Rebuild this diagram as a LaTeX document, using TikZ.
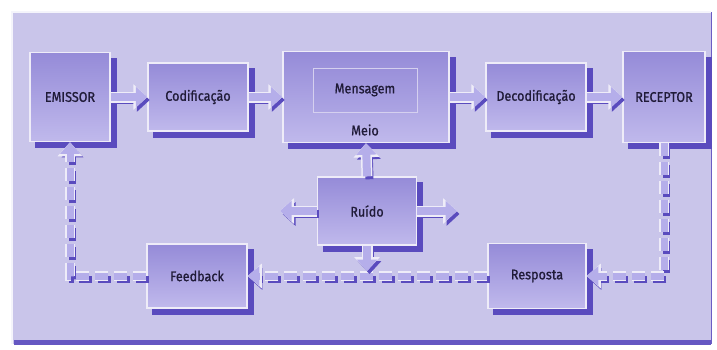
\documentclass[tikz,border=0pt]{standalone}
\usepackage{fontspec}
\setmainfont[FakeStretch=0.9,FakeBold=0.9]{Fira Sans}
\usetikzlibrary{arrows.meta}
\definecolor{panel}{HTML}{C9C5EA}
\definecolor{boxtop}{HTML}{958BD8}
\definecolor{boxbot}{HTML}{C0B9EC}
\definecolor{msgtop}{HTML}{9A90DA}
\definecolor{msgbot}{HTML}{ACA4E3}
\definecolor{shad}{HTML}{5A4BBE}
\definecolor{rim}{HTML}{EEECF8}
\definecolor{arrowc}{HTML}{B5AEEA}
\definecolor{txt}{HTML}{201B38}
\pgfdeclarelayer{bg}
\pgfdeclarelayer{shadowlayer}
\pgfsetlayers{bg,shadowlayer,main}
\tikzset{
  box/.style={draw=rim, line width=1.5pt, top color=boxtop, bottom color=boxbot,
    inner sep=0pt, font=\fontsize{14}{16}\selectfont, text=txt},
  lbl/.style={inner sep=0pt, font=\fontsize{14}{16}\selectfont, text=txt},
  arrshadow/.style={draw=shad, line width=8pt, line cap=butt,
    -{Triangle[width=23pt,length=13pt]}, transform canvas={shift={(2.5pt,-3pt)}}},
  arrrim/.style={draw=rim, line width=11pt, line cap=butt, -{Triangle[width=25pt,length=14pt]}},
  arrfill/.style={draw=arrowc, line width=8pt, line cap=butt, -{Triangle[width=20pt,length=11.5pt]}},
  dshadow/.style={draw=shad, line width=7pt, line cap=butt, dash pattern=on 13pt off 6pt,
    -{Triangle[width=21pt,length=12pt]}, transform canvas={shift={(2.5pt,-3pt)}}},
  drim/.style={draw=rim, line width=9.5pt, line cap=butt, dash pattern=on 13pt off 6pt,
    -{Triangle[width=24pt,length=14pt]}},
  dfill/.style={draw=arrowc, line width=7pt, line cap=butt, dash pattern=on 13pt off 6pt,
    -{Triangle[width=19pt,length=11.5pt]}},
}
\newcommand\barrow[2]{\draw[arrshadow] #1 -- #2; \draw[arrrim] #1 -- #2; \draw[arrfill] #1 -- #2;}
\newcommand\darrow[1]{\draw[dshadow] #1; \draw[drim] #1; \draw[dfill] #1;}
\begin{document}
\begin{tikzpicture}[x=1pt,y=-1pt]
\useasboundingbox (0,0) rectangle (717,349);
\begin{pgfonlayer}{bg}
  \fill[white] (0,0) rectangle (717,349);
  \fill[panel] (12,12) rectangle (711,344);
  \draw[white!80!panel, line width=1.5pt] (12,344) -- (12,12) -- (711,12);
  \draw[shad!85!panel, line width=1pt] (711,12) -- (711,344);
  \fill[shad!90!panel] (14,340) rectangle (711,345);
\end{pgfonlayer}

% boxes
\node[box, minimum width=80pt, minimum height=89pt] (emissor) at (70,97) {EMISSOR};
\node[box, minimum width=100pt, minimum height=68pt] (codif) at (198,97) {Codificação};
\node[box, minimum width=166pt, minimum height=91pt] (meio) at (366,97) {};
\node[draw=rim!70!msgtop, line width=1pt, top color=msgtop, bottom color=msgbot,
      minimum width=104pt, minimum height=44pt, inner sep=0pt,
      font=\fontsize{14}{16}\selectfont, text=txt] (msg) at (365,90) {Mensagem};
\node[lbl] (meiotxt) at (365,130) {Meio};
\node[box, minimum width=100pt, minimum height=68pt] (decod) at (536,97) {Decodificação};
\node[box, minimum width=82pt, minimum height=91pt] (receptor) at (664,97) {RECEPTOR};
\node[box, minimum width=99pt, minimum height=68pt] (ruido) at (367,211) {Ruído};
\node[box, minimum width=100pt, minimum height=64pt] (feedback) at (197,276) {Feedback};
\node[box, minimum width=98pt, minimum height=65pt] (resposta) at (537,276) {Resposta};

\begin{pgfonlayer}{shadowlayer}
  \foreach \n in {emissor,codif,meio,decod,receptor,ruido,feedback,resposta}
    \fill[shad] ([shift={(6,6)}]\n.north west) rectangle ([shift={(6,6)}]\n.south east);
\end{pgfonlayer}

\coordinate (rleft) at (280,211);
\coordinate (rright) at (457,211);
\coordinate (rdown) at (367,271);

% dashed feedback loop
\darrow{(receptor.south) |- (resposta.east)}
\darrow{(resposta.west) -- (feedback.east)}
\darrow{(feedback.west) -| (emissor.south)}

% block arrows
\barrow{(emissor.east)}{(codif.west)}
\barrow{(codif.east)}{(meio.west)}
\barrow{(meio.east)}{(decod.west)}
\barrow{(decod.east)}{(receptor.west)}
\barrow{(ruido.north)}{(meio.south)}
\barrow{(ruido.west)}{(rleft)}
\barrow{(ruido.east)}{(rright)}
\barrow{(ruido.south)}{(rdown)}
\end{tikzpicture}
\end{document}
